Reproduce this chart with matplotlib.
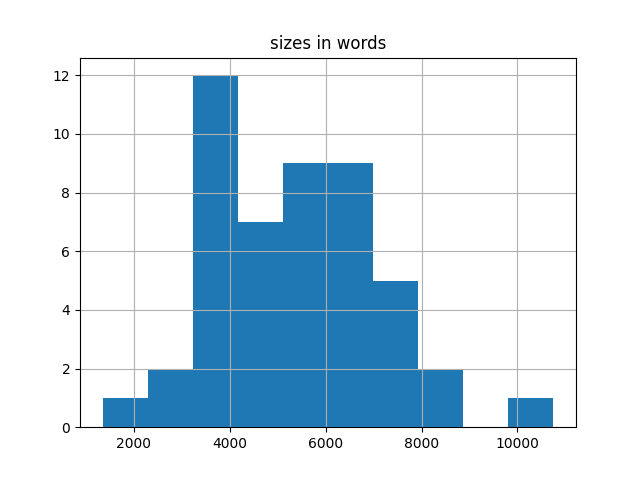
import numpy as np
import matplotlib
matplotlib.use("Agg")
import matplotlib.pyplot as plt

# histogram: 10 equal bins
size_min = 1350
size_max = 10750
counts = [1, 2, 12, 7, 9, 9, 5, 2, 0, 1]

edges = np.linspace(size_min, size_max, len(counts) + 1)
centers = (edges[:-1] + edges[1:]) / 2

fig, ax = plt.subplots(figsize=(6.4, 4.8), dpi=100)
ax.hist(centers, bins=edges, weights=counts)
ax.grid(True)
ax.set_title("sizes in words")

fig.savefig("out.png")
